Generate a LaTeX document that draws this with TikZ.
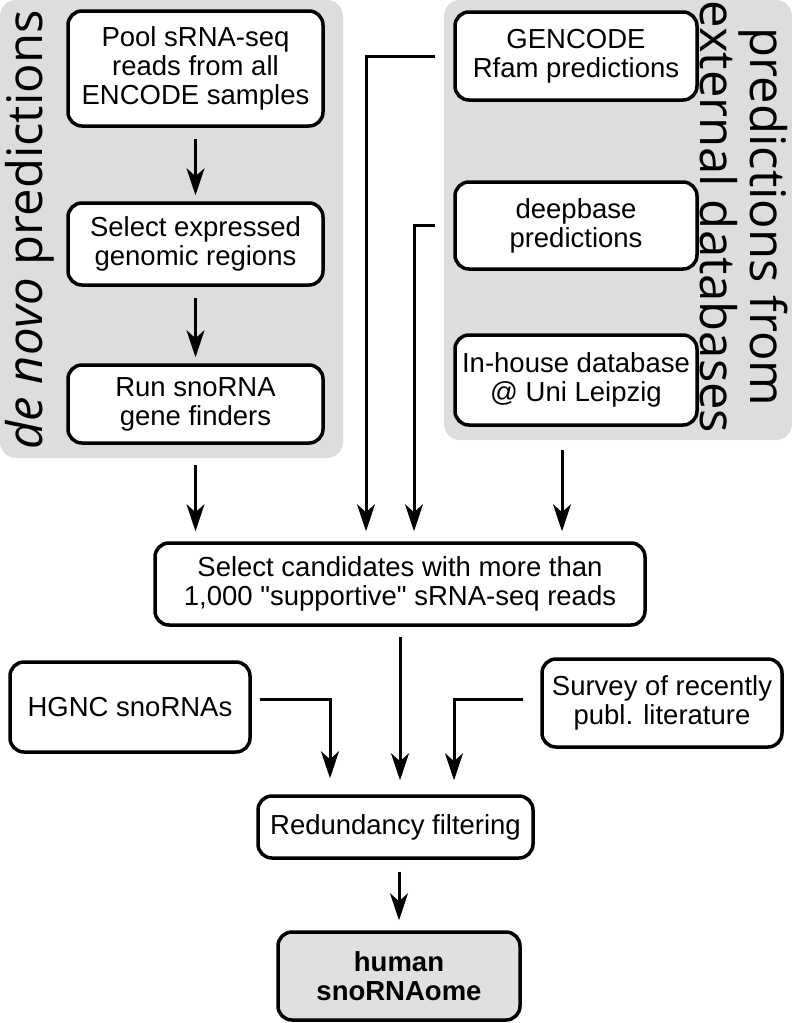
\documentclass[tikz,border=0pt]{standalone}
\usepackage{fontspec}
\setmainfont{Liberation Sans}
\newfontfamily\titrefont{Open Sans}
\usetikzlibrary{arrows.meta}
\definecolor{fond}{RGB}{221,221,221}
\definecolor{fondres}{RGB}{224,224,224}
\tikzset{
  boite/.style={draw,line width=3.5pt,rounded corners=14pt,fill=white,align=center,inner sep=0pt,font=\fontsize{27.5}{29}\selectfont},
  fleche/.style={line width=3pt,-{Stealth[length=27pt,width=18pt,inset=8pt]}},
  panneau/.style={fill=fond,rounded corners=16pt},
  titre/.style={font=\titrefont\fontsize{49}{35}\selectfont,align=center,inner sep=0pt}
}
\begin{document}
\begin{tikzpicture}[x=1pt,y=-1pt]
                \useasboundingbox (0,0) rectangle (792,1023);
                \fill[panneau] (0,0) rectangle (343,458);
                \fill[panneau] (444,0) rectangle (792,440);
                \node[titre,rotate=90] (denovo) at (30,230) {\textit{de novo} predictions};
                \node[titre,rotate=-90] (externes) at (744,217) {predictions from\\external databases};
                % colonne de gauche
                \node[boite,minimum width=255pt,minimum height=115pt] (pool) at (195.5,68.5) {Pool sRNA-seq\\reads from all\\ENCODE samples};
                \node[boite,minimum width=255pt,minimum height=82pt] (expr) at (195.5,244) {Select expressed\\genomic regions};
                \node[boite,minimum width=255pt,minimum height=78pt] (finders) at (195.5,404) {Run snoRNA\\gene finders};
                % bases externes
                \node[boite,minimum width=242pt,minimum height=88pt] (gencode) at (576,56) {GENCODE\\Rfam predictions};
                \node[boite,minimum width=242pt,minimum height=87pt] (deepbase) at (576,225.5) {deepbase\\predictions};
                \node[boite,minimum width=242pt,minimum height=90pt] (inhouse) at (576,380) {In-house database\\@ Uni Leipzig};
                \node[boite,minimum width=490pt,minimum height=82pt] (select) at (400,584) {Select candidates with more than\\1,000 \textquotedbl supportive\textquotedbl{} sRNA-seq reads};
                \node[boite,minimum width=240pt,minimum height=90pt] (hgnc) at (130,707) {HGNC snoRNAs};
                \node[boite,minimum width=240pt,minimum height=88pt] (survey) at (662,703) {Survey of recently\\publ. literature};
                \node[boite,minimum width=275pt,minimum height=62pt] (redund) at (395.5,827) {Redundancy filtering};
                \node[boite,fill=fondres,font=\fontsize{27.5}{29}\selectfont\bfseries,minimum width=242pt,minimum height=88pt] (snorna) at (399,976) {human\\snoRNAome};
                \draw[fleche,shorten <=11pt,shorten >=6pt] (pool) -- (expr);
                \draw[fleche,shorten <=11pt,shorten >=6pt] (expr) -- (finders);
                \draw[fleche,shorten <=20pt,shorten >=10pt] (finders.south) -- (finders.south |- select.north);
                \draw[fleche,shorten <=18pt,shorten >=10pt] (gencode.west) -| ([xshift=-34pt]select.north);
                \draw[fleche,shorten <=18pt,shorten >=10pt] (deepbase.west) -| ([xshift=14pt]select.north);
                \draw[fleche,shorten <=23pt,shorten >=10pt] ([xshift=-14pt]inhouse.south) -- ([xshift=-14pt]inhouse.south |- select.north);
                \draw[fleche,shorten <=10pt,shorten >=14pt] (select.south) -- (select.south |- redund.north);
                \draw[fleche,shorten <=8pt,shorten >=16pt] ([yshift=8pt]hgnc.east) -| ([xshift=-65.5pt]redund.north);
                \draw[fleche,shorten <=17pt,shorten >=14pt] ([yshift=4pt]survey.west) -| ([xshift=58.5pt]redund.north);
                \draw[fleche,shorten <=12pt,shorten >=10pt] (snorna.north |- redund.south) -- (snorna.north);
\end{tikzpicture}
\end{document}
